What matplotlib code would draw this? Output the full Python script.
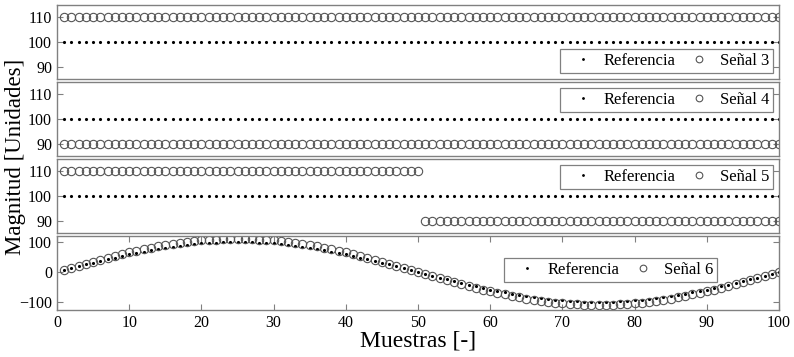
import numpy as np
import matplotlib
matplotlib.use('Agg')
import matplotlib.pyplot as plt

plt.rcParams['font.family'] = ['Liberation Serif', 'DejaVu Serif']

# muestras 1..100
muestras = np.arange(1, 101)

# referencias y señales de los cuatro casos
ref3 = [100] * 100
sen3 = [110] * 100
ref4 = [100] * 100
sen4 = [90] * 100
ref5 = [100] * 100
sen5 = [110] * 50 + [90] * 50

ref6 = [6, 13, 19, 25, 31, 37, 43, 48, 54, 59, 64, 68, 73, 77, 81, 84, 88, 90, 93, 95,
        97, 98, 99, 100, 100, 100, 99, 98, 97, 95, 93, 90, 88, 84, 81, 77, 73, 68, 64, 59,
        54, 48, 43, 37, 31, 25, 19, 13, 6, 0, -6, -13, -19, -25, -31, -37, -43, -48, -54, -59,
        -64, -68, -73, -77, -81, -84, -88, -90, -93, -95, -97, -98, -99, -100, -100, -100, -99, -98, -97, -95,
        -93, -90, -88, -84, -81, -77, -73, -68, -64, -59, -54, -48, -43, -37, -31, -25, -19, -13, -6, 0]
sen6 = [7, 14, 21, 27, 34, 40, 47, 53, 59, 65, 70, 75, 80, 85, 89, 93, 96, 100, 102, 105,
        107, 108, 109, 110, 110, 110, 109, 108, 107, 105, 102, 100, 96, 93, 89, 85, 80, 75, 70, 65,
        59, 53, 47, 40, 34, 27, 21, 14, 7, 0, -7, -14, -21, -27, -34, -40, -47, -53, -59, -65,
        -70, -75, -80, -85, -89, -93, -96, -100, -102, -105, -107, -108, -109, -110, -110, -110, -109, -108, -107, -105,
        -102, -100, -96, -93, -89, -85, -80, -75, -70, -65, -59, -53, -47, -40, -34, -27, -21, -14, -7, 0]

casos = [(ref3, sen3, 'Señal 3'), (ref4, sen4, 'Señal 4'),
         (ref5, sen5, 'Señal 5'), (ref6, sen6, 'Señal 6')]

fig = plt.figure(figsize=(7.94, 3.57), dpi=100)
W, H = 794.0, 357.0
left, right = 57, 779
tops = [5, 82, 159, 236]
alto = 74
gris = '#808080'

for i, (ref, sen, nombre) in enumerate(casos):
    top = tops[i]
    ax = fig.add_axes([left / W, 1 - (top + alto) / H, (right - left) / W, alto / H])
    ax.plot(muestras, ref, ls='none', marker='.', ms=2.5, color='k', label='Referencia')
    ax.plot(muestras, sen, ls='none', marker='o', ms=6, mfc='none', mec='#555555', mew=0.8,
            label=nombre)
    ax.set_xlim(0, 100)
    for s in ax.spines.values():
        s.set_color(gris)
        s.set_linewidth(1.0)
    ax.tick_params(direction='in', length=4, width=0.8, color=gris, labelsize=11.5,
                   right=True, top=True, pad=3.5)
    if i < 3:
        ax.set_ylim(85, 115)
        ax.set_yticks([90, 100, 110])
        ax.set_xticks([])
    else:
        ax.set_ylim(-127, 120)
        ax.set_yticks([-100, 0, 100])
        ax.set_xticks(np.arange(0, 101, 10))
        ax.set_xlabel('Muestras [-]', fontsize=17, labelpad=0)

    ley = dict(ncol=2, fontsize=12, frameon=True, fancybox=False, framealpha=1,
               edgecolor=gris, borderpad=0.25, handlelength=2.2, handletextpad=0.15,
               columnspacing=0.3, borderaxespad=0.35, markerscale=0.8)
    if i == 0:
        leg = ax.legend(loc='lower right', **ley)
    elif i < 3:
        leg = ax.legend(loc='upper right', **ley)
    else:
        leg = ax.legend(loc='center', bbox_to_anchor=(0.767, 0.54), **ley)
    leg.get_frame().set_linewidth(0.9)

fig.text(0.019, 1 - 157 / H, 'Magnitud [Unidades]', rotation=90, fontsize=16.5,
         ha='center', va='center')

fig.savefig('out.png', dpi=100)
